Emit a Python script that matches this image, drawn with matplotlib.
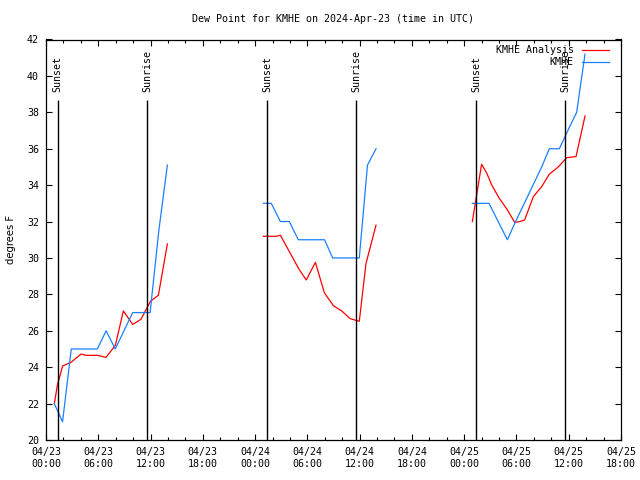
import matplotlib
matplotlib.use("Agg")
import matplotlib.pyplot as plt
import matplotlib.dates as mdates
import pandas as pd

START = pd.Timestamp("2024-04-23 00:00")

# times are hours after 2024-04-23 00:00 UTC, dew point in degrees F
# KMHE Analysis (red), one list per night
ana_hours = [
    [0.96, 1.3, 1.91, 2.87, 4.02, 4.59, 5.93, 6.89, 7.96, 8.88, 9.95, 10.9, 11.99, 12.9, 13.93],
    [24.95, 26.44, 26.9, 29.04, 29.88, 30.92, 31.95, 32.98, 33.94, 34.9, 35.96, 36.73, 37.88],
    [48.94, 50.0, 50.6, 51.17, 52.0, 52.96, 53.8, 54.4, 54.94, 55.94, 56.9, 57.77, 58.8, 59.77, 60.84, 61.87],
]
ana_dewpt = [
    [22.0, 23.0, 24.07, 24.27, 24.72, 24.65, 24.65, 24.54, 25.2, 27.09, 26.35, 26.63, 27.62, 27.95, 30.77],
    [31.19, 31.19, 31.25, 29.38, 28.79, 29.76, 28.09, 27.38, 27.09, 26.67, 26.52, 29.7, 31.8],
    [32.0, 35.15, 34.65, 34.0, 33.3, 32.64, 31.95, 32.0, 32.09, 33.37, 33.92, 34.6, 35.0, 35.51, 35.57, 37.8],
]

# KMHE observations (blue), hourly
obs_hours = [
    [0.95, 1.9, 2.9, 3.9, 4.9, 5.9, 6.9, 7.95, 8.95, 9.95, 10.95, 11.95, 12.95, 13.93],
    [24.95, 25.86, 26.9, 27.93, 28.96, 29.95, 30.95, 31.98, 32.9, 33.95, 34.95, 35.96, 36.9, 37.88],
    [48.94, 49.9, 50.85, 51.9, 52.96, 53.9, 54.9, 55.9, 56.9, 57.77, 58.92, 59.9, 60.91, 61.87],
]
obs_dewpt = [
    [22, 21, 25, 25, 25, 25, 26, 25, 26, 27, 27, 27, 31.5, 35.1],
    [33, 33, 32, 32, 31, 31, 31, 31, 30, 30, 30, 30, 35.1, 36],
    [33, 33, 33, 32, 31, 32, 33, 34, 35, 36, 36, 37, 38, 41.2],
]

sunset_hours = [1.34, 25.4, 49.4]
sunrise_hours = [11.63, 35.6, 59.6]


def to_time(hours):
    return [START + pd.Timedelta(hours=h) for h in hours]


plt.rcParams["font.family"] = ["DejaVu Sans Mono"]
plt.rcParams["font.size"] = 7.2

fig = plt.figure(figsize=(6.4, 4.8), dpi=100)
ax = fig.add_axes([46 / 640, 1 - 440 / 480, 575 / 640, 400.5 / 480])

for h, v in zip(ana_hours, ana_dewpt):
    ax.plot(to_time(h), v, color="#ff0000", lw=0.9)
for h, v in zip(obs_hours, obs_dewpt):
    ax.plot(to_time(h), v, color="#1a80ff", lw=0.9)

# sunrise / sunset markers
for name, hours in (("Sunset", sunset_hours), ("Sunrise", sunrise_hours)):
    for t in to_time(hours):
        ax.vlines(t, 20, 38.7, color="black", lw=1)
        ax.text(t, 39.1, name, rotation=90, ha="center", va="bottom")

ax.set_xlim(START, START + pd.Timedelta(hours=66))
ax.set_ylim(20, 42)
ax.set_yticks(range(20, 43, 2))
ax.xaxis.set_major_locator(mdates.HourLocator(byhour=[0, 6, 12, 18]))
ax.xaxis.set_minor_locator(mdates.HourLocator(interval=2))
ax.xaxis.set_major_formatter(mdates.DateFormatter("%m/%d\n%H:%M"))
ax.tick_params(which="both", direction="in", top=True, right=True, width=0.8)
ax.tick_params(which="major", length=4)
ax.tick_params(which="minor", length=2.5)
ax.tick_params(axis="y", pad=5)
ax.tick_params(axis="x", which="major", pad=5)
for s in ax.spines.values():
    s.set_linewidth(0.9)

ax.set_ylabel("degrees F", family="DejaVu Sans")
ax.yaxis.set_label_coords(-0.052, 0.5)

# legend drawn by hand: text right-aligned, sample line after it
for i, (label, color) in enumerate((("KMHE Analysis", "#ff0000"), ("KMHE", "#1a80ff"))):
    y = 0.974 - i * 0.030
    ax.text(0.918, y, label, transform=ax.transAxes, ha="right", va="center")
    ax.plot([0.932, 0.979], [y, y], transform=ax.transAxes, color=color, lw=0.9, clip_on=False)

fig.text(333 / 640, 1 - 19 / 480, "Dew Point for KMHE on 2024-Apr-23 (time in UTC)",
         ha="center", va="center")

fig.savefig("out.png", dpi=100)
